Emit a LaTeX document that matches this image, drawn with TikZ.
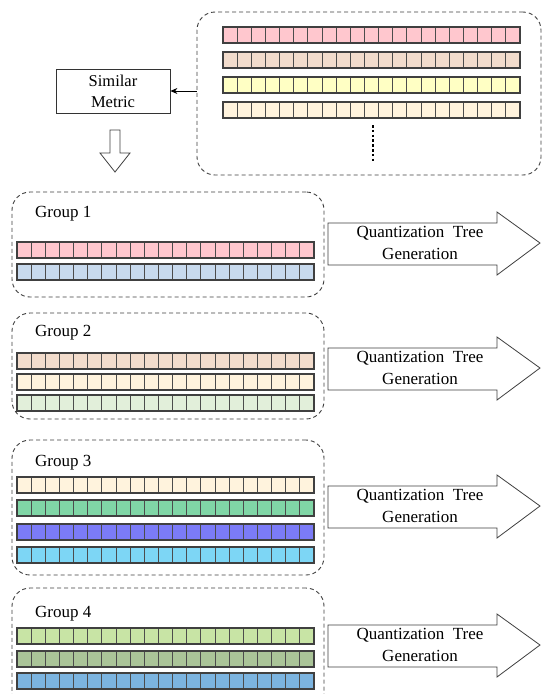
\documentclass[tikz,border=0pt]{standalone}
\usepackage{fontspec}
\setmainfont{Liberation Serif}
\usetikzlibrary{arrows.meta}
\definecolor{cPink}{RGB}{255,199,206}
\definecolor{cPeach}{RGB}{242,220,204}
\definecolor{cYel}{RGB}{255,255,196}
\definecolor{cCream}{RGB}{255,243,221}
\definecolor{cLBlue}{RGB}{200,218,238}
\definecolor{cLGreen}{RGB}{226,239,218}
\definecolor{cGreen}{RGB}{128,214,166}
\definecolor{cPurple}{RGB}{123,123,247}
\definecolor{cCyan}{RGB}{125,214,245}
\definecolor{cYGreen}{RGB}{200,228,165}
\definecolor{cOlive}{RGB}{170,196,152}
\definecolor{cBlue}{RGB}{124,180,224}
\newcommand{\cellrow}[4]{% x0, x1, ytop, colour
  \fill[#4] (#1,#3) rectangle (#2,#3+16);
  \foreach \k in {1,...,20}{
    \draw[cellline] ({#1+\k*(#2-#1)/21},#3) -- ++(0,16);
  }
  \draw[rowline] (#1,#3) rectangle (#2,#3+16);
}
\tikzset{
  cellline/.style={draw=black!70,line width=0.9pt},
  rowline/.style={draw=black!75,line width=1.3pt},
  dashbox/.style={draw=black!75,line width=0.9pt,dash pattern=on 4pt off 3pt,rounded corners=18pt},
  bigarrow/.style={draw=black!75,line width=0.8pt,fill=white},
  lbl/.style={font=\fontsize{17}{22}\selectfont,inner sep=0pt},
}
\begin{document}
\begin{tikzpicture}[x=1pt,y=-1pt]
\clip (0,0) rectangle (542,694);
\fill[white] (0,0) rectangle (542,694);
% pool of rows
\node[dashbox,minimum width=344pt,minimum height=163pt,inner sep=0pt] (pool) at (369,93.5) {};
\cellrow{223}{520}{27}{cPink}
\cellrow{223}{520}{52}{cPeach}
\cellrow{223}{520}{77}{cYel}
\cellrow{223}{520}{102}{cCream}
\coordinate (dA) at (373,125);
\coordinate (dB) at (373,163);
\draw[line width=2.6pt,dash pattern=on 2.6pt off 2.2pt] (dA) -- (dB);
% similar metric
\node[draw=black!80,line width=0.8pt,minimum width=114pt,minimum height=44pt,align=center,
      font=\fontsize{16.5}{21}\selectfont,inner sep=0pt] (metric) at (113,91) {Similar\\Metric};
\draw[line width=0.8pt,-{Stealth[length=7pt,width=6pt]}] (pool.west |- metric.east) -- (metric.east);
% hollow down arrow
\draw[bigarrow] (110,130) -- (120,130) -- (120,153) -- (130,153) -- (115,172) -- (100,153) -- (110,153) -- cycle;
% groups
\node[dashbox,minimum width=312pt,minimum height=105pt,inner sep=0pt] (g1) at (168,244.5) {};
\node[dashbox,minimum width=312pt,minimum height=106pt,inner sep=0pt] (g2) at (168,366) {};
\node[dashbox,minimum width=312pt,minimum height=135pt,inner sep=0pt] (g3) at (168,507.5) {};
\node[dashbox,minimum width=312pt,minimum height=124pt,inner sep=0pt] (g4) at (168,650) {};
\node[lbl,anchor=west] (t1) at (35,214) {Group 1};
\node[lbl,anchor=west] (t2) at (35,333) {Group 2};
\node[lbl,anchor=west] (t3) at (35,463) {Group 3};
\node[lbl,anchor=west] (t4) at (35,614) {Group 4};
\cellrow{17}{314}{242}{cPink}
\cellrow{17}{314}{264}{cLBlue}
\cellrow{17}{314}{353}{cPeach}
\cellrow{17}{314}{374}{cCream}
\cellrow{17}{314}{395}{cLGreen}
\cellrow{17}{314}{477}{cCream}
\cellrow{17}{314}{500}{cGreen}
\cellrow{17}{314}{524}{cPurple}
\cellrow{17}{314}{547}{cCyan}
\cellrow{17}{314}{628}{cYGreen}
\cellrow{17}{314}{651}{cOlive}
\cellrow{17}{314}{673}{cBlue}
% quantization arrows
\foreach \n/\tip in {1/243,2/368,3/506,4/645}{
  \draw[bigarrow] (328,\tip-20) -- (497,\tip-20) -- (497,\tip-31) -- (540,\tip)
     -- (497,\tip+32) -- (497,\tip+22) -- (328,\tip+22) -- cycle;
  \node[lbl,align=center] (q\n) at (420,\tip) {Quantization\ \ Tree\\Generation};
}
\end{tikzpicture}
\end{document}
